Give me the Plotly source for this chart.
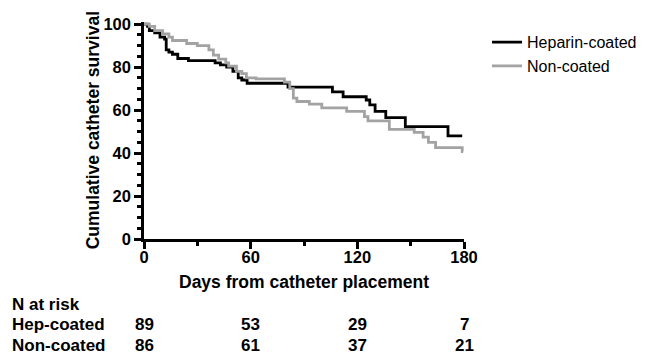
import plotly.graph_objects as go

# Heparin-coated catheter survival (Kaplan-Meier steps): day, % surviving
hep_days = [0, 2, 3, 6, 9, 11.6, 12.5, 14, 16, 19, 25, 40, 43, 46.5, 50, 53, 55, 58, 81, 106, 112, 125, 127, 130, 136, 147, 171, 179]
hep_surv = [100, 99, 97, 96, 94, 93, 88, 87, 86, 84, 83, 82, 81, 80, 78, 75, 74, 72.5, 70.7, 68.5, 66.2, 64.7, 62.4, 59.4, 56.5, 52.3, 48, 48]

# Non-coated catheter survival
non_days = [0, 3, 6, 10.5, 14, 16, 24, 30, 36.5, 39, 42, 46, 47.6, 52, 55, 57.6, 63, 79, 82, 84, 86, 93, 100, 114, 124, 126, 138, 152, 157, 160, 164, 179, 179.5]
non_surv = [100, 99, 97, 95.5, 94, 92.4, 91, 90, 88, 85.6, 83.7, 82, 80.5, 78, 77, 75, 74.5, 73, 70, 65.6, 64, 62.8, 61, 59.4, 57, 55, 51, 49.6, 47.4, 45, 42.5, 40.7, 40.7]

series_names = ["Heparin-coated", "Non-coated"]
series_colors = ["#000000", "#a3a3a3"]

# N at risk table
risk_days = [0, 60, 120, 180]
risk_rows = ["Hep-coated", "Non-coated"]
risk_hep = [89, 53, 29, 7]
risk_non = [86, 61, 37, 21]

x_ticks = [0, 60, 120, 180]
y_ticks = [0, 20, 40, 60, 80, 100]

FONT = "Liberation Sans, Arial, sans-serif"

fig = go.Figure()
for name, d, s, c in [(series_names[0], hep_days, hep_surv, series_colors[0]),
                      (series_names[1], non_days, non_surv, series_colors[1])]:
    fig.add_trace(go.Scatter(x=d, y=s, mode="lines", name=name,
                             line=dict(color=c, width=2.8, shape="hv")))

axis_common = dict(showline=True, linecolor="black", linewidth=2.5, showgrid=False,
                   zeroline=False, ticks="outside", tickcolor="black", tickwidth=2.5,
                   ticklen=7, ticklabeloverflow="allow",
                   tickfont=dict(family=FONT, size=16.5, color="black", weight="bold"))

fig.update_xaxes(range=[0, 180], tickvals=x_ticks, ticktext=[str(v) for v in x_ticks],
                 ticklabelstandoff=-6,
                 minor=dict(dtick=30, tick0=0, ticks="outside", ticklen=4, tickwidth=2.5, tickcolor="black"),
                 **axis_common)
fig.update_yaxes(range=[0, 101], tickvals=y_ticks, ticktext=[str(v) for v in y_ticks],
                 ticklabelstandoff=0,
                 minor=dict(dtick=5, tick0=0, ticks="outside", ticklen=4, tickwidth=2.5, tickcolor="black"),
                 **axis_common)

annotations = []
# axis titles
annotations.append(dict(text="Cumulative catheter survival", xref="paper", yref="paper",
                        x=-0.16, y=0.5, textangle=-90, showarrow=False,
                        xanchor="center", yanchor="middle",
                        font=dict(family=FONT, size=17.5, color="black", weight="bold")))
annotations.append(dict(text="Days from catheter placement", xref="x", yref="paper",
                        x=90, y=-0.196, showarrow=False, xanchor="center", yanchor="middle",
                        font=dict(family=FONT, size=17.5, color="black", weight="bold")))
# risk table
row_y = [-0.396, -0.49]
annotations.append(dict(text="N at risk", xref="paper", yref="paper", x=-0.418, y=-0.302,
                        showarrow=False, xanchor="left", yanchor="middle",
                        font=dict(family=FONT, size=17, color="black", weight="bold")))
for label, vals, yy in zip(risk_rows, [risk_hep, risk_non], row_y):
    annotations.append(dict(text=label, xref="paper", yref="paper", x=-0.418, y=yy,
                            showarrow=False, xanchor="left", yanchor="middle",
                            font=dict(family=FONT, size=17, color="black", weight="bold")))
    for d, v in zip(risk_days, vals):
        annotations.append(dict(text=str(v), xref="x", yref="paper", x=d, y=yy,
                                showarrow=False, xanchor="center", yanchor="middle",
                                font=dict(family=FONT, size=17, color="black", weight="bold")))

# page body has an 8px default margin, so the figure is drawn 8px smaller and shifted
fig.update_layout(
    width=641, height=355,
    margin=dict(l=136, r=180, t=7, b=124),
    paper_bgcolor="white", plot_bgcolor="white",
    showlegend=True,
    legend=dict(x=1.072, y=0.985, xanchor="left", yanchor="top",
                font=dict(family=FONT, size=16, color="black"),
                bgcolor="rgba(0,0,0,0)", itemwidth=30, tracegroupgap=0),
    annotations=annotations,
)

fig.write_html("out.html")
